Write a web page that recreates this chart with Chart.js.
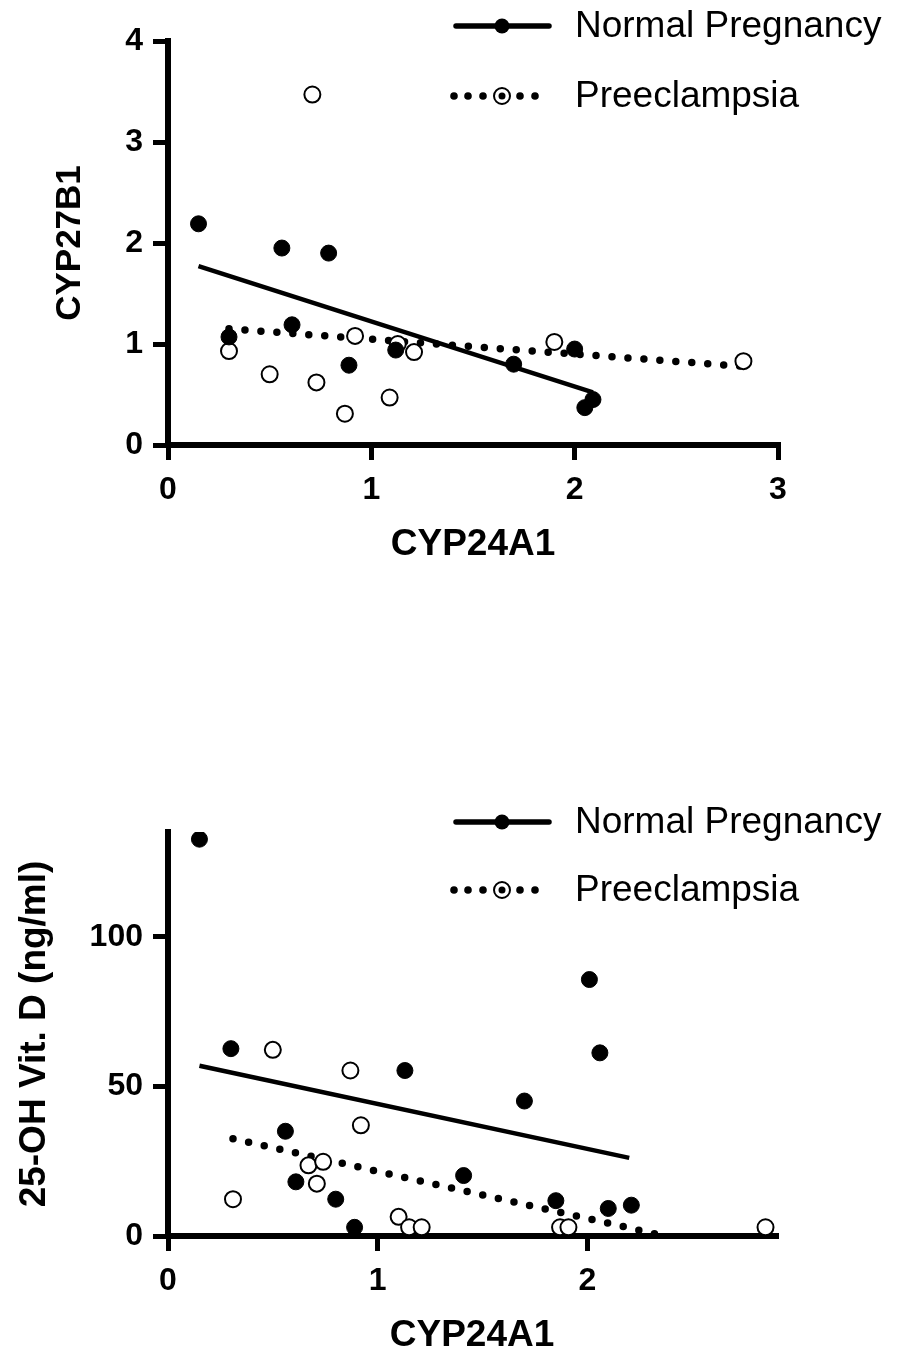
<!DOCTYPE html>
<html>
<head>
<meta charset="utf-8">
<script src="https://cdn.jsdelivr.net/npm/chart.js@4.4.1/dist/chart.umd.min.js"></script>
<style>
    html, body { margin: 0; padding: 0; width: 900px; height: 1351px; overflow: hidden; background: #fff; }
    #topChart { position: absolute; left: 0; top: 0; }
    #bottomChart { position: absolute; left: 0; top: 640px; }
</style>
</head>
<body>
<canvas id="topChart" width="900" height="640"></canvas>
<canvas id="bottomChart" width="900" height="726"></canvas>
<script>
// Grafic sus: CYP27B1 vs CYP24A1
const topNormalX = [0.15, 0.56, 0.79, 0.30, 0.61, 0.89, 1.12, 1.70, 2.00, 2.05, 2.09];
const topNormalY = [2.19, 1.95, 1.90, 1.07, 1.19, 0.79, 0.94, 0.80, 0.95, 0.37, 0.45];
const topPreX = [0.71, 0.30, 0.50, 0.73, 0.87, 0.92, 1.09, 1.13, 1.21, 1.90, 2.83];
const topPreY = [3.47, 0.93, 0.70, 0.62, 0.31, 1.08, 0.47, 1.00, 0.92, 1.02, 0.83];
const topNormalFitX = [0.15, 2.09];
const topNormalFitY = [1.77, 0.52];
const topPreFitX = [0.30, 2.82];
const topPreFitY = [1.15, 0.78];
const topXTicks = [0, 1, 2, 3];
const topYTicks = [0, 1, 2, 3, 4];

// Grafic jos: 25-OH Vit. D vs CYP24A1
const botNormalX = [0.15, 0.30, 1.13, 2.01, 2.06, 1.70, 0.56, 0.61, 0.80, 0.89, 1.41, 1.85, 2.10, 2.21];
const botNormalY = [132.6, 62.6, 55.3, 85.7, 61.2, 45.1, 35.0, 18.1, 12.3, 2.9, 20.2, 11.8, 9.2, 10.3];
const botPreX = [0.50, 0.87, 0.92, 0.67, 0.74, 0.71, 0.31, 1.10, 1.15, 1.21, 1.87, 1.91, 2.85];
const botPreY = [62.2, 55.3, 37.0, 23.6, 24.8, 17.5, 12.3, 6.4, 2.9, 2.9, 2.9, 2.9, 2.9];
const botNormalFitX = [0.15, 2.20];
const botNormalFitY = [56.9, 26.1];
const botPreFitX = [0.31, 2.37];
const botPreFitY = [32.5, 0];
const botXTicks = [0, 1, 2];
const botYTicks = [0, 50, 100];

const legendLabels = ["Normal Pregnancy", "Preeclampsia"];

Chart.defaults.font.family = "'Liberation Sans', Arial, sans-serif";
Chart.defaults.color = "#000";

const toPoints = (xs, ys) => xs.map((x, i) => ({ x: x, y: ys[i] }));

// Legenda desenată manual (linie + marcaj)
const groupLegend = {
    id: "groupLegend",
    afterDraw(chart, args, opts) {
        const ctx = chart.ctx;
        const r0 = opts.rows[0], r1 = opts.rows[1];
        ctx.save();
        ctx.strokeStyle = "#000";
        ctx.fillStyle = "#000";
        ctx.lineWidth = 5.5;
        ctx.lineCap = "round";
        ctx.beginPath();
        ctx.moveTo(456, r0);
        ctx.lineTo(549, r0);
        ctx.stroke();
        ctx.beginPath();
        ctx.arc(502, r0, 7.5, 0, Math.PI * 2);
        ctx.fill();

        [454, 468, 483, 520, 535].forEach(x => {
            ctx.beginPath();
            ctx.arc(x, r1, 3.8, 0, Math.PI * 2);
            ctx.fill();
        });
        ctx.beginPath();
        ctx.arc(502, r1, 8, 0, Math.PI * 2);
        ctx.fillStyle = "#fff";
        ctx.fill();
        ctx.lineWidth = 2;
        ctx.stroke();
        ctx.fillStyle = "#000";
        ctx.beginPath();
        ctx.arc(502, r1, 3.5, 0, Math.PI * 2);
        ctx.fill();

        ctx.font = "37px 'Liberation Sans', Arial, sans-serif";
        ctx.textBaseline = "middle";
        ctx.textAlign = "left";
        ctx.fillText(legendLabels[0], 575, r0 + 1);
        ctx.fillText(legendLabels[1], 575, r1 + 1);
        ctx.restore();
    }
};

function makeChart(id, d) {
    const ctx = document.getElementById(id).getContext("2d");
    return new Chart(ctx, {
        type: "scatter",
        data: {
            datasets: [
                {
                    label: legendLabels[0],
                    data: toPoints(d.normalX, d.normalY),
                    backgroundColor: "#000",
                    borderColor: "#000",
                    borderWidth: 1,
                    pointRadius: 8
                },
                {
                    label: legendLabels[1],
                    data: toPoints(d.preX, d.preY),
                    backgroundColor: "#fff",
                    borderColor: "#000",
                    borderWidth: 2,
                    pointRadius: 8
                },
                {
                    label: "fit normal",
                    data: toPoints(d.normalFitX, d.normalFitY),
                    showLine: true,
                    pointRadius: 0,
                    borderColor: "#000",
                    borderWidth: 4.5
                },
                {
                    label: "fit preeclampsia",
                    data: toPoints(d.preFitX, d.preFitY),
                    showLine: true,
                    pointRadius: 0,
                    borderColor: "#000",
                    borderWidth: 7.5,
                    borderDash: [0, 16],
                    borderCapStyle: "round"
                }
            ]
        },
        options: {
            responsive: false,
            animation: false,
            layout: { padding: d.padding },
            plugins: {
                legend: { display: false },
                tooltip: { enabled: false },
                groupLegend: { rows: d.legendRows }
            },
            scales: {
                x: {
                    type: "linear",
                    min: 0,
                    max: d.xMax,
                    afterBuildTicks: s => { s.ticks = d.xTicks.map(v => ({ value: v })); },
                    afterFit: s => { s.height = 130; },
                    border: { display: true, width: 6, color: "#000" },
                    grid: { drawOnChartArea: false, drawTicks: true, tickLength: 15, lineWidth: 5, color: "#000" },
                    ticks: { color: "#000", padding: 11, maxRotation: 0, font: { size: 32, weight: "bold" } },
                    title: {
                        display: true,
                        text: "CYP24A1",
                        color: "#000",
                        font: { size: 37, weight: "bold" },
                        padding: { top: 0, bottom: 8 }
                    }
                },
                y: {
                    type: "linear",
                    min: 0,
                    max: d.yMax,
                    afterBuildTicks: s => { s.ticks = d.yTicks.map(v => ({ value: v })); },
                    afterFit: s => { s.width = 168; },
                    border: { display: true, width: 6, color: "#000" },
                    grid: { drawOnChartArea: false, drawTicks: true, tickLength: 15, lineWidth: 5, color: "#000" },
                    ticks: { color: "#000", padding: 10, font: { size: 32, weight: "bold" } },
                    title: {
                        display: true,
                        text: d.yTitle,
                        color: "#000",
                        font: { size: d.yTitleSize, weight: "bold" },
                        padding: { top: d.yTitlePad, bottom: 0 }
                    }
                }
            }
        },
        plugins: [groupLegend]
    });
}

makeChart("topChart", {
    normalX: topNormalX, normalY: topNormalY,
    preX: topPreX, preY: topPreY,
    normalFitX: topNormalFitX, normalFitY: topNormalFitY,
    preFitX: topPreFitX, preFitY: topPreFitY,
    xMax: 3, yMax: 4,
    xTicks: topXTicks, yTicks: topYTicks,
    yTitle: "CYP27B1", yTitleSize: 35, yTitlePad: 49,
    padding: { left: 0, right: 122, top: 41, bottom: 65 },
    legendRows: [26, 96]
});

makeChart("bottomChart", {
    normalX: botNormalX, normalY: botNormalY,
    preX: botPreX, preY: botPreY,
    normalFitX: botNormalFitX, normalFitY: botNormalFitY,
    preFitX: botPreFitX, preFitY: botPreFitY,
    xMax: 2.9, yMax: 135,
    xTicks: botXTicks, yTicks: botYTicks,
    yTitle: "25-OH Vit. D (ng/ml)", yTitleSize: 37, yTitlePad: 13,
    padding: { left: 0, right: 124, top: 192, bottom: 0 },
    legendRows: [182, 250]
});
</script>
</body>
</html>
